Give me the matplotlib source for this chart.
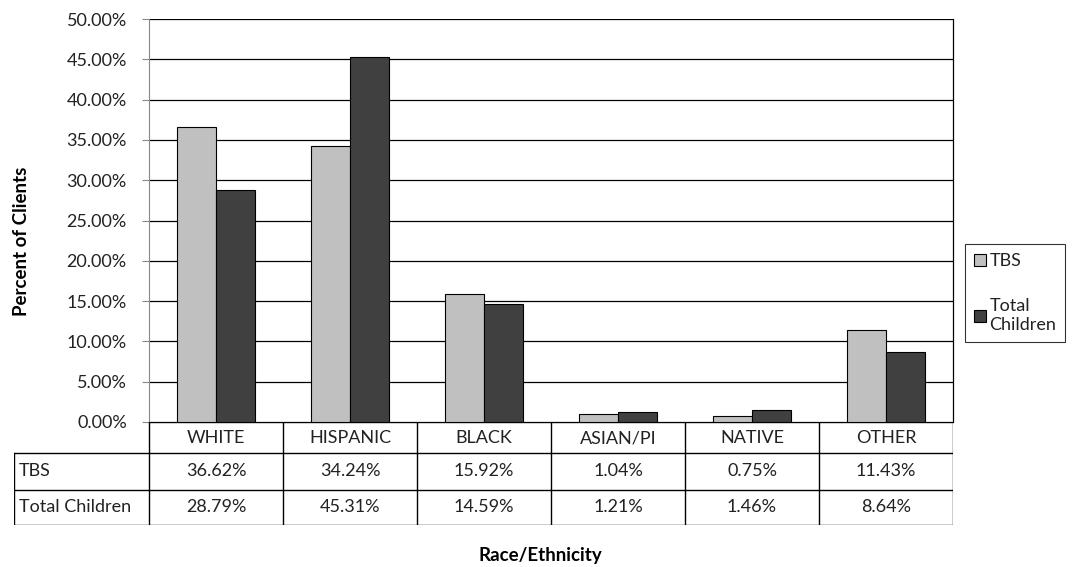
import matplotlib.pyplot as plt
import numpy as np

categories = ["WHITE", "HISPANIC", "BLACK", "ASIAN/PI", "NATIVE", "OTHER"]
tbs = [36.62, 34.24, 15.92, 1.04, 0.75, 11.43]
total_children = [28.79, 45.31, 14.59, 1.21, 1.46, 8.64]
series_names = ["TBS", "Total Children"]
colors = ["#c0c0c0", "#404040"]

plt.rcParams['font.family'] = ['Lato', 'DejaVu Sans']

W, H = 1072, 567
fig = plt.figure(figsize=(W / 100, H / 100), dpi=100)

def box(l, t, r, b):
    return [l / W, 1 - b / H, (r - l) / W, (b - t) / H]

fs = 13
txt = "#222222"

# bar chart
ax = fig.add_axes(box(149, 19, 953, 422))
x = np.arange(len(categories)) + 0.5
bw = 0.29
ax.bar(x - bw / 2, tbs, bw, color=colors[0], edgecolor="black", linewidth=0.8, zorder=3, label="TBS")
ax.bar(x + bw / 2, total_children, bw, color=colors[1], edgecolor="black", linewidth=0.8, zorder=3, label="Total\nChildren")
ax.set_xlim(0, len(categories))
ax.set_ylim(0, 50)
ticks = np.arange(0, 50.1, 5)
ax.set_yticks(ticks)
ax.set_yticklabels([f"{v:.2f}%" for v in ticks], fontsize=fs, color=txt)
ax.yaxis.grid(True, color="black", linewidth=0.9, zorder=0)
ax.set_xticks([])
ax.tick_params(axis="y", length=5, color="#888888", pad=11)
for s in ["top", "bottom"]:
    ax.spines[s].set_visible(False)
ax.spines["left"].set_color("#888888")
ax.spines["right"].set_color("black")
ax.spines["right"].set_linewidth(0.9)

leg = ax.legend(loc="center left", bbox_to_anchor=(1.015, 0.32), frameon=True, fancybox=False,
                edgecolor="black", fontsize=fs, handlelength=0.65, handleheight=0.65,
                handletextpad=0.2, labelspacing=1.6, borderpad=0.5, borderaxespad=0)
leg.get_frame().set_linewidth(0.8)
for t in leg.get_texts():
    t.set_color(txt)

# data table below
tab = fig.add_axes(box(14, 422, 953, 525))
tab.set_xlim(14, 953)
tab.set_ylim(525, 422)
tab.axis("off")
col_edges = [14] + [149 + 134 * i for i in range(7)]
row_edges = [422, 453, 490, 525]
lw = 1.0
tab.plot([149, 953], [422, 422], color="black", lw=lw)
for y in row_edges[1:]:
    tab.plot([14, 953], [y, y], color="black", lw=lw)
for i, cx in enumerate(col_edges):
    y0 = 453 if i == 0 else 422
    tab.plot([cx, cx], [y0, 525], color="black", lw=lw)
rows = [tbs, total_children]
for i, c in enumerate(categories):
    cx = (col_edges[i + 1] + col_edges[i + 2]) / 2
    tab.text(cx, (422 + 453) / 2 + 1, c, ha="center", va="center", fontsize=fs, color=txt)
    for r, vals in enumerate(rows):
        cy = (row_edges[r + 1] + row_edges[r + 2]) / 2
        tab.text(cx, cy, f"{vals[i]:.2f}%", ha="center", va="center", fontsize=fs, color=txt)
for r, name in enumerate(series_names):
    cy = (row_edges[r + 1] + row_edges[r + 2]) / 2
    tab.text(19, cy, name, ha="left", va="center", fontsize=fs, color=txt)

fig.text(540 / W, 1 - 555 / H, "Race/Ethnicity", ha="center", va="center", fontsize=13.5, fontweight="bold")
fig.text(22 / W, 1 - 241 / H, "Percent of Clients", ha="center", va="center", rotation=90,
         fontsize=13.5, fontweight="bold")

fig.savefig("out.png", dpi=100)
